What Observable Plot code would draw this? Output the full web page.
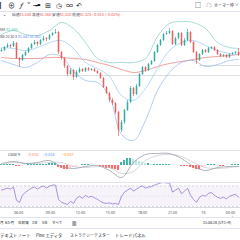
<!DOCTYPE html>
<html><head><meta charset="utf-8">
<script src="https://cdn.jsdelivr.net/npm/d3@7"></script>
<script src="https://cdn.jsdelivr.net/npm/@observablehq/plot@0.6"></script>
<style>
html,body{margin:0;padding:0;background:#fff;}
#root{position:relative;width:240px;height:240px;overflow:hidden;font-family:"Noto Sans CJK JP","Noto Sans",sans-serif;color:#131722;background:#fff;}
.abs{position:absolute;white-space:nowrap;line-height:1;}
.ln{position:absolute;height:1px;}
</style></head><body><div id="root"></div>
<script>
// ---- candles (5-min bars, oldest -> newest) ----
const opens = [
81.545,81.55,81.565,81.575,81.57,81.585,81.51,81.50,81.525,81.54,
81.56,81.58,81.59,81.58,81.60,81.61,81.605,81.625,81.635,81.64,
81.54,81.51,81.47,81.43,81.45,81.415,81.44,81.455,81.445,81.46,
81.45,81.455,81.445,81.435,81.41,81.365,81.335,81.30,81.285,81.24,
81.15,81.19,81.25,81.29,81.36,81.33,81.37,81.43,81.465,81.45,
81.48,81.495,81.54,81.575,81.60,81.63,81.635,81.645,81.58,81.61,
81.635,81.575,81.60,81.64,81.59,81.54,81.50,81.53,81.55,81.54,
81.56,81.565,81.55,81.53,81.52,81.525,81.515,81.53,81.535,81.54];
const highs = [
81.56,81.57,81.585,81.58,81.595,81.59,81.515,81.53,81.545,81.565,
81.585,81.60,81.595,81.605,81.62,81.615,81.63,81.64,81.655,81.645,
81.545,81.515,81.475,81.46,81.455,81.45,81.465,81.46,81.465,81.465,
81.46,81.46,81.45,81.44,81.415,81.37,81.34,81.31,81.29,81.245,
81.20,81.255,81.30,81.37,81.365,81.38,81.435,81.47,81.47,81.485,
81.50,81.545,81.58,81.605,81.635,81.645,81.66,81.65,81.615,81.64,
81.64,81.61,81.655,81.645,81.595,81.545,81.535,81.555,81.555,81.565,
81.57,81.57,81.555,81.535,81.53,81.53,81.535,81.54,81.545,81.56];
const lows = [
81.54,81.545,81.56,81.56,81.565,81.505,81.465,81.495,81.52,81.535,
81.555,81.575,81.57,81.575,81.595,81.595,81.60,81.62,81.63,81.53,
81.50,81.46,81.42,81.425,81.40,81.41,81.435,81.44,81.44,81.445,
81.445,81.44,81.43,81.405,81.36,81.33,81.29,81.275,81.23,81.12,
81.14,81.18,81.245,81.285,81.32,81.325,81.365,81.425,81.44,81.445,
81.475,81.49,81.535,81.57,81.595,81.625,81.63,81.575,81.575,81.605,
81.57,81.57,81.595,81.585,81.535,81.48,81.495,81.525,81.535,81.535,
81.555,81.545,81.525,81.515,81.515,81.51,81.51,81.525,81.53,81.52];
const closes = [
81.55,81.565,81.575,81.57,81.585,81.51,81.50,81.525,81.54,81.56,
81.58,81.59,81.58,81.60,81.61,81.605,81.625,81.635,81.64,81.54,
81.51,81.47,81.43,81.45,81.415,81.44,81.455,81.445,81.46,81.45,
81.455,81.445,81.435,81.41,81.365,81.335,81.30,81.285,81.24,81.15,
81.19,81.25,81.29,81.36,81.33,81.37,81.43,81.465,81.45,81.48,
81.495,81.54,81.575,81.60,81.63,81.635,81.645,81.58,81.61,81.635,
81.575,81.60,81.64,81.59,81.54,81.50,81.53,81.55,81.54,81.56,
81.565,81.55,81.53,81.52,81.525,81.515,81.53,81.535,81.54,81.525];

// ---- overlay lines, read at every 4th bar ----
const bandIdx   = [0,4,8,12,16,20,24,28,32,36,40,44,48,52,56,60,64,68,72,76,79];
const upperBand = [81.63,81.65,81.63,81.625,81.65,81.69,81.66,81.59,81.51,81.49,81.49,81.49,81.51,81.62,81.685,81.695,81.69,81.66,81.59,81.565,81.56];
const midBand   = [81.565,81.56,81.55,81.565,81.59,81.60,81.56,81.49,81.46,81.42,81.325,81.30,81.36,81.46,81.55,81.59,81.60,81.575,81.55,81.535,81.53];
const lowerBand = [81.50,81.48,81.465,81.49,81.53,81.52,81.445,81.40,81.39,81.32,81.13,81.10,81.20,81.35,81.44,81.49,81.50,81.47,81.48,81.50,81.505];
const longMA    = [81.515,81.51,81.51,81.51,81.515,81.515,81.51,81.505,81.49,81.475,81.455,81.44,81.45,81.47,81.485,81.495,81.505,81.515,81.52,81.525,81.53];
const priceLines = [81.425];
const priceLineRight = 81.475;

// ---- MACD ----
const macdLine   = [0.002,0.004,0.002,0.003,0.005,-0.001,-0.003,-0.001,0.000,-0.005,-0.012,0.003,0.011,0.012,0.012,0.007,-0.001,-0.005,-0.002,-0.001,-0.001];
const signalLine = [0.001,0.003,0.002,0.002,0.003,0.003,-0.001,-0.002,-0.001,-0.002,-0.008,-0.006,0.005,0.010,0.011,0.009,0.003,-0.002,-0.003,-0.002,-0.001];
const macdHist = [
0.001,0.001,0.001,0.001,0.001,
-0.001,-0.001,0,0,
0.001,0.001,0.001,0.001,0.001,0.001,0.001,0.002,0.002,0.002,
-0.002,-0.003,-0.004,-0.004,-0.003,-0.002,
-0.001,0,0.001,0.001,0.001,0,0,0,
-0.001,-0.002,-0.003,-0.003,-0.004,-0.004,-0.005,
0.003,0.005,0.007,0.007,0.006,0.005,0.004,0.003,
0.002,0.002,0.001,0.001,0.001,0.001,
0.001,0.001,0.001,0,0,0,
-0.001,-0.001,-0.001,-0.002,-0.003,-0.004,-0.004,
-0.002,-0.001,0.001,0.001,0.001,0,
-0.001,-0.001,0,0,0.001,0.001,0.001];

// ---- RSI ----
const rsi = [
62,64,66,64,68, 42,38,
52,58,62,66,68,64,68,70,66,70,72,72,
44,38,36,34,40,36,
46,50,46,52,48,50,47,44,
40,37,36,37,35,36,34,
50,58,62,66,60,64,68,70,
66,68,69,72,74,76,77,76,76,
58,62,66,55,60,66,
52,44,38,48,
52,50,56,57,52,48,
46,48,45,50,52,54,48];
const rsiLevels = [70, 50, 30];

// ---- time axis ----
const tickIdx = [5.7, 16.3, 26.3, 36.3, 47, 57, 67.3, 76.3];
const tickLabels = ["06:00","09:00","12:00","15:00","18:00","21:00","16","03:00"];

// ---- colours ----
const UP = "#26a69a", DOWN = "#ef5350";

const candles = opens.map((o, i) => ({i, o, h: highs[i], l: lows[i], c: closes[i]}));
const bands = bandIdx.map((i, k) => ({i, up: upperBand[k], mid: midBand[k], lo: lowerBand[k], ma: longMA[k], macd: macdLine[k], sig: signalLine[k]}));
const hist = macdHist.map((v, i) => ({i, v, prev: i ? macdHist[i-1] : 0}));
const rsiData = rsi.map((v, i) => ({i, v}));
const tickMap = new Map(tickIdx.map((t, k) => [t, tickLabels[k]]));
const XD = [-1/3, 239/3];

const root = document.getElementById("root");
function put(x, y, html, size, color, extra = "") {
  const d = document.createElement("div");
  d.className = "abs";
  d.style.cssText = `left:${x}px;top:${y}px;font-size:${size}px;color:${color};transform:translateY(-50%);${extra}`;
  d.innerHTML = html;
  root.appendChild(d);
}
function hline(y, color, x0 = 0, x1 = 240) {
  const d = document.createElement("div");
  d.className = "ln";
  d.style.cssText = `left:${x0}px;top:${y}px;width:${x1 - x0}px;background:${color};`;
  root.appendChild(d);
}
function place(el, top) {
  el.style.position = "absolute"; el.style.left = "0px"; el.style.top = top + "px";
  root.appendChild(el);
}

// main price pane
const main = Plot.plot({
  width: 240, height: 138, margin: 0,
  style: {background: "transparent"},
  x: {domain: XD, axis: null},
  y: {domain: [81.05, 81.74], axis: null},
  marks: [
    Plot.ruleY(priceLines, {stroke: "#d1d4dc", strokeWidth: 0.8}),
    Plot.ruleY([priceLineRight], {x1: 66, x2: 80, stroke: "#d1d4dc", strokeWidth: 0.8}),
    Plot.line(bands, {x: "i", y: "ma", curve: "catmull-rom", stroke: "#e57373", strokeWidth: 0.8, strokeOpacity: 0.85}),
    Plot.line(bands, {x: "i", y: "mid", curve: "catmull-rom", stroke: "#90caf9", strokeWidth: 0.7}),
    Plot.line(bands, {x: "i", y: "up", curve: "catmull-rom", stroke: "#80cbc4", strokeWidth: 0.7}),
    Plot.line(bands, {x: "i", y: "lo", curve: "catmull-rom", stroke: "#90b8e8", strokeWidth: 0.7}),
    Plot.ruleX(candles, {x: "i", y1: "l", y2: "h", stroke: d => d.c >= d.o ? UP : DOWN, strokeWidth: 0.7, strokeOpacity: 0.9}),
    Plot.ruleX(candles, {x: "i", y1: "o", y2: "c", stroke: d => d.c >= d.o ? UP : DOWN, strokeWidth: 1.6, strokeOpacity: 0.85})
  ]
});
place(main, 12);

// MACD pane
const macd = Plot.plot({
  width: 240, height: 32, margin: 0,
  style: {background: "transparent"},
  x: {domain: XD, axis: null},
  y: {domain: [-0.017, 0.015], axis: null},
  marks: [
    Plot.rectY(hist, {x1: d => d.i - 0.35, x2: d => d.i + 0.35, y: "v", fillOpacity: 0.85,
      fill: d => d.v >= 0 ? (d.v >= d.prev ? "#26a69a" : "#b2dfdb") : (d.v <= d.prev ? "#ff5252" : "#ffcdd2")}),
    Plot.line(bands, {x: "i", y: "sig", curve: "catmull-rom", stroke: "#c4c6cc", strokeWidth: 0.7}),
    Plot.line(bands, {x: "i", y: "macd", curve: "catmull-rom", stroke: "#8f929c", strokeWidth: 0.7})
  ]
});
place(macd, 150);

// RSI pane + time axis
const rsiPlot = Plot.plot({
  width: 240, height: 38, marginTop: 1, marginBottom: 13, marginLeft: 0, marginRight: 0,
  style: {background: "transparent", color: "#4a4e59", fontSize: "3.6px", fontFamily: "'Noto Sans', sans-serif"},
  x: {domain: XD},
  y: {domain: [28, 75], axis: null},
  marks: [
    Plot.rect([0], {x1: XD[0], x2: XD[1], y1: rsiLevels[2], y2: rsiLevels[0], fill: "#7e57c2", fillOpacity: 0.07}),
    Plot.ruleY([rsiLevels[0], rsiLevels[2]], {stroke: "#b2b5be", strokeWidth: 0.5, strokeDasharray: "2,2"}),
    Plot.ruleY([rsiLevels[1]], {stroke: "#c8cad0", strokeWidth: 0.5, strokeDasharray: "1,2"}),
    Plot.line(rsiData, {x: "i", y: "v", stroke: "#8a68c9", strokeWidth: 0.7}),
    Plot.ruleY([28], {stroke: "#d6d8de", strokeWidth: 1}),
    Plot.axisX(tickIdx, {tickFormat: d => tickMap.get(d), tickSize: 0, tickPadding: 4, fontSize: 3.6})
  ]
});
place(rsiPlot, 182);

// separators
hline(11, "#e0e3eb");
hline(150, "#e0e3eb");
hline(182, "#e0e3eb");
hline(217, "#e0e3eb");
hline(228, "#e0e3eb");

// top toolbar
const ic = "#131722";
put(0, 5, "▏", 7, ic);
put(8, 5, "⊕", 7, ic);
put(19, 5, "ƒ", 7, ic, "font-style:italic;");
put(27, 5, "ˇ", 6, ic);
put(33, 5, "▂▄▆", 2.6, ic, "letter-spacing:-0.3px;");
put(45, 5, "⊞", 7, ic);
put(56, 5, "◷", 7, ic);
put(66, 5, "∞", 7, ic);
put(76, 5, "↶", 7, ic);
put(195, 5, "□", 6, ic);
put(206, 5, "☁", 6, "#6a6d78");
put(214, 5, "ホーマー仲", 4, ic);
put(235, 5, "∨", 3.5, ic);

// legend rows in price pane
const red = "#ef5350", blue = "#5b8def", gray = "#4a4e59";
put(4, 15, "•", 4, gray);
put(12, 15,
  `始値<span style="color:${red}">81.540</span> 高値<span style="color:${red}">81.560</span> 安値<span style="color:${red}">81.520</span> 終値<span style="color:${red}">81.525</span> <span style="color:${red}">−0.014 (−0.02%)</span>`,
  3.8, gray);
put(0, 30, `MA <span style="color:#4db6ac">81.601</span>`, 3.8, gray);
put(0, 37, `BB 20 30 3 <span style="color:${blue}">81.582</span> <span style="color:${blue}">81.582</span>`, 3.6, gray);

// MACD legend
put(8, 155, "close 9", 3.8, gray);
put(27, 155, "−0.005", 3.8, "#f28b89");
put(43, 155, "−0.016", 3.8, "#64a0f0");
put(62, 155, "−0.007", 3.8, "#ffa040");

// bottom bars
put(0, 223, "月", 3.6, ic);
put(5, 223, "6か月", 3.6, ic);
put(18, 223, "年初来", 3.6, ic);
put(32, 223, "1年", 3.6, ic);
put(42, 223, "5年", 3.6, ic);
put(52, 223, "すべて", 3.6, ic);
put(72, 223, "▦", 4.5, ic);
put(203, 223, "11:58:28 (UTC+9)", 3.6, ic);

put(0, 235, "テキストノート", 4.4, ic);
put(36, 235, "Pine エディタ", 4.2, ic);
put(70, 235, "ストラテジーテスター", 4, ic);
put(115, 235, "トレードパネル", 4.4, ic);
</script></body></html>
